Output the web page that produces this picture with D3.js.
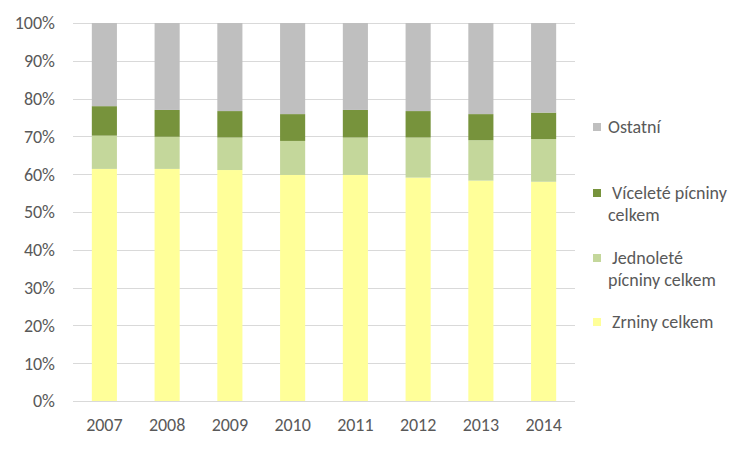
<!DOCTYPE html>
<html><head><meta charset="utf-8">
<script src="https://cdn.jsdelivr.net/npm/d3@7"></script>
<style>body{margin:0;background:#fff}svg{display:block}</style>
</head><body><svg id="c" width="750" height="450"></svg>
<script>
const years = ["2007","2008","2009","2010","2011","2012","2013","2014"];
const zrniny = [61.4, 61.4, 61.1, 59.8, 59.8, 59.1, 58.3, 58.0];
const jednolete = [8.8, 8.5, 8.6, 9.0, 9.9, 10.6, 10.7, 11.3];
const vicelete = [7.8, 7.1, 7.0, 7.1, 7.3, 7.0, 6.9, 7.0];
const ostatni = [22.0, 23.0, 23.3, 24.1, 23.0, 23.3, 24.1, 23.7];
const seriesNames = ["Zrniny celkem", "Jednoleté pícniny celkem", "Víceleté pícniny celkem", "Ostatní"];
const legendLines = [["Ostatní"], ["\u00a0Víceleté pícniny", "celkem"], ["\u00a0Jednoleté", "pícniny celkem"], ["\u00a0Zrniny celkem"]];
const yTicks = [0, 0.1, 0.2, 0.3, 0.4, 0.5, 0.6, 0.7, 0.8, 0.9, 1.0];
const colors = ["#FFFF99", "#C4D79B", "#77933C", "#BFBFBF"];

const svg = d3.select("#c");
const font = "Calibri, Carlito, 'Liberation Sans', sans-serif";
const fs = 18;
const pLeft = 73, pRight = 575, pTop = 23, pBottom = 401;

const rows = years.map((y, i) => ({year: y, s0: zrniny[i], s1: jednolete[i], s2: vicelete[i], s3: ostatni[i]}));
const norm = rows.map(r => { const t = r.s0 + r.s1 + r.s2 + r.s3; return {year: r.year, s0: r.s0 / t, s1: r.s1 / t, s2: r.s2 / t, s3: r.s3 / t}; });
const stack = d3.stack().keys(["s0", "s1", "s2", "s3"])(norm);

const x = d3.scaleBand().domain(years).range([pLeft, pRight]).paddingInner(0.6).paddingOuter(0.3);
const y = d3.scaleLinear().domain([0, 1]).range([pBottom, pTop]);

svg.append("g").selectAll("line").data(yTicks).join("line")
  .attr("x1", pLeft).attr("x2", pRight)
  .attr("y1", d => Math.round(y(d)) + 0.5).attr("y2", d => Math.round(y(d)) + 0.5)
  .attr("stroke", "#D9D9D9").attr("stroke-width", 1);

svg.append("g").selectAll("text").data(yTicks).join("text")
  .attr("x", 55).attr("y", d => y(d)).attr("dy", "0.35em")
  .attr("text-anchor", "end").attr("font-family", font).attr("font-size", fs).attr("fill", "#595959")
  .text(d3.format(".0%"));

svg.append("g").selectAll("g").data(stack).join("g")
  .attr("fill", (d, i) => colors[i])
  .selectAll("rect").data(d => d).join("rect")
  .attr("x", d => x(d.data.year)).attr("width", x.bandwidth())
  .attr("y", d => y(d[1])).attr("height", d => y(d[0]) - y(d[1]));

svg.append("line").attr("x1", pLeft).attr("x2", pRight).attr("y1", pBottom + 0.5).attr("y2", pBottom + 0.5)
  .attr("stroke", "#D9D9D9");

svg.append("g").selectAll("text").data(years).join("text")
  .attr("x", d => x(d) + x.bandwidth() / 2).attr("y", 425).attr("dy", "0.35em")
  .attr("text-anchor", "middle").attr("font-family", font).attr("font-size", fs).attr("fill", "#595959")
  .text(d => d);

const legY = [127, 193, 258, 322];
const legColorIdx = [3, 2, 1, 0];
const lg = svg.append("g");
legendLines.forEach((lines, i) => {
  lg.append("rect").attr("x", 593).attr("y", legY[i] - 4).attr("width", 8).attr("height", 8).attr("fill", colors[legColorIdx[i]]);
  const t = lg.append("text").attr("x", 608).attr("y", legY[i])
    .attr("font-family", font).attr("font-size", fs).attr("fill", "#595959");
  lines.forEach((ln, j) => {
    t.append("tspan").attr("x", 608).attr("dy", j === 0 ? "0.35em" : 22).text(ln);
  });
});
</script></body></html>
